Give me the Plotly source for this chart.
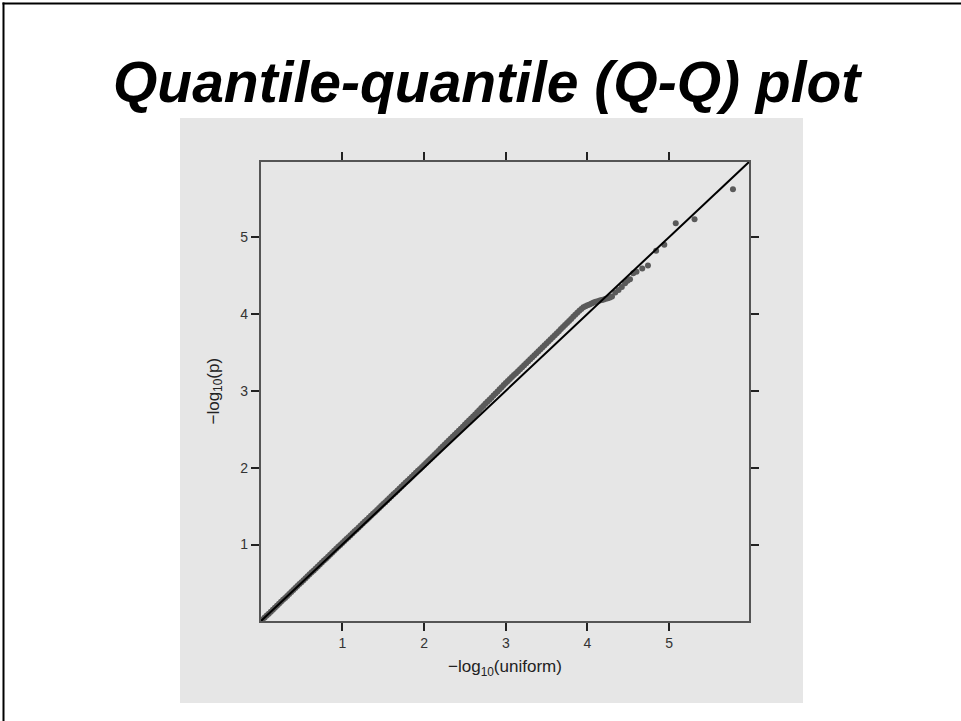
import plotly.graph_objects as go

# Expected -log10(uniform) quantiles
qx = [0.025, 0.050, 0.075, 0.100, 0.125, 0.150, 0.175, 0.200,
      0.225, 0.250, 0.275, 0.300, 0.325, 0.350, 0.375, 0.400,
      0.425, 0.450, 0.475, 0.500, 0.525, 0.550, 0.575, 0.600,
      0.625, 0.650, 0.675, 0.700, 0.725, 0.750, 0.775, 0.800,
      0.825, 0.850, 0.875, 0.900, 0.925, 0.950, 0.975, 1.000,
      1.025, 1.050, 1.075, 1.100, 1.125, 1.150, 1.175, 1.200,
      1.225, 1.250, 1.275, 1.300, 1.325, 1.350, 1.375, 1.400,
      1.425, 1.450, 1.475, 1.500, 1.525, 1.550, 1.575, 1.600,
      1.625, 1.650, 1.675, 1.700, 1.725, 1.750, 1.775, 1.800,
      1.825, 1.850, 1.875, 1.900, 1.925, 1.950, 1.975, 2.000,
      2.025, 2.050, 2.075, 2.100, 2.125, 2.150, 2.175, 2.200,
      2.225, 2.250, 2.275, 2.300, 2.325, 2.350, 2.375, 2.400,
      2.425, 2.450, 2.475, 2.500, 2.525, 2.550, 2.575, 2.600,
      2.625, 2.650, 2.675, 2.700, 2.725, 2.750, 2.775, 2.800,
      2.825, 2.850, 2.875, 2.900, 2.925, 2.950, 2.975, 3.000,
      3.025, 3.050, 3.075, 3.100, 3.125, 3.150, 3.175, 3.200,
      3.225, 3.250, 3.275, 3.300, 3.325, 3.350, 3.375, 3.400,
      3.425, 3.450, 3.475, 3.500, 3.525, 3.550, 3.575, 3.600,
      3.625, 3.650, 3.675, 3.700, 3.725, 3.750, 3.775, 3.800,
      3.825, 3.850, 3.875, 3.900, 3.925, 3.950, 3.975, 4.000,
      4.025, 4.050, 4.075, 4.100, 4.125, 4.150, 4.175, 4.200,
      4.225, 4.250, 4.275, 4.300,
      4.34, 4.38, 4.42, 4.46, 4.49, 4.52, 4.56, 4.60, 4.67, 4.74,
      4.84, 4.94, 5.08, 5.31, 5.78]
# Observed -log10(p)
qy = [0.025, 0.050, 0.076, 0.101, 0.126, 0.152, 0.178, 0.203,
      0.230, 0.255, 0.281, 0.306, 0.332, 0.357, 0.383, 0.408,
      0.434, 0.459, 0.485, 0.510, 0.536, 0.561, 0.587, 0.612,
      0.638, 0.663, 0.689, 0.715, 0.740, 0.766, 0.791, 0.816,
      0.842, 0.868, 0.893, 0.919, 0.944, 0.970, 0.995, 1.020,
      1.045, 1.071, 1.096, 1.121, 1.146, 1.172, 1.197, 1.222,
      1.247, 1.272, 1.298, 1.323, 1.348, 1.373, 1.399, 1.424,
      1.450, 1.475, 1.501, 1.526, 1.551, 1.577, 1.602, 1.627,
      1.653, 1.678, 1.704, 1.729, 1.755, 1.780, 1.806, 1.831,
      1.856, 1.882, 1.907, 1.933, 1.959, 1.984, 2.010, 2.035,
      2.061, 2.087, 2.113, 2.139, 2.165, 2.191, 2.217, 2.245,
      2.271, 2.297, 2.323, 2.350, 2.376, 2.402, 2.428, 2.454,
      2.480, 2.506, 2.533, 2.560, 2.587, 2.614, 2.640, 2.666,
      2.693, 2.720, 2.747, 2.775, 2.802, 2.830, 2.857, 2.882,
      2.909, 2.937, 2.964, 2.992, 3.020, 3.047, 3.074, 3.100,
      3.126, 3.152, 3.178, 3.204, 3.229, 3.255, 3.281, 3.307,
      3.333, 3.359, 3.385, 3.411, 3.437, 3.463, 3.489, 3.514,
      3.540, 3.566, 3.592, 3.618, 3.644, 3.671, 3.697, 3.724,
      3.750, 3.776, 3.803, 3.829, 3.856, 3.882, 3.909, 3.935,
      3.962, 3.988, 4.015, 4.041, 4.065, 4.085, 4.100, 4.112,
      4.124, 4.137, 4.148, 4.158, 4.166, 4.173, 4.180, 4.187,
      4.196, 4.205, 4.215, 4.228,
      4.28, 4.31, 4.35, 4.40, 4.43, 4.45, 4.53, 4.55, 4.59, 4.63,
      4.82, 4.90, 5.18, 5.23, 5.62]

x_ticks = [1, 2, 3, 4, 5]
y_ticks = [1, 2, 3, 4, 5]
axis_max = 5.98
diag = [0, axis_max]

W, H = 961, 721
FONT = "Liberation Sans, Arial, sans-serif"

fig = go.Figure()
fig.add_trace(go.Scatter(x=qx, y=qy, mode="markers",
                         marker=dict(size=6, color="#5a5a5a", line=dict(width=0)),
                         showlegend=False, hoverinfo="skip"))
fig.add_trace(go.Scatter(x=diag, y=diag, mode="lines",
                         line=dict(color="black", width=2),
                         showlegend=False, hoverinfo="skip"))

def px_x(p):
    return p / W

def px_y(p):
    return 1 - p / H

axis_common = dict(showgrid=False, zeroline=False, showline=True,
                   linecolor="#555555", linewidth=1.5, mirror="allticks",
                   ticks="outside", ticklen=8, tickwidth=1.5, tickcolor="#222222",
                   tickfont=dict(family=FONT, size=14, color="#333333"))

fig.update_layout(
    width=W, height=H,
    margin=dict(l=0, r=0, t=0, b=0),
    paper_bgcolor="white",
    plot_bgcolor="#e6e6e6",
    xaxis=dict(domain=[px_x(260.6), px_x(749.3)], range=[0, axis_max],
               tickvals=x_ticks, **axis_common),
    yaxis=dict(domain=[px_y(621.4), px_y(161.7)], range=[0, axis_max],
               tickvals=y_ticks, **axis_common),
    shapes=[
        dict(type="rect", xref="paper", yref="paper", layer="below",
             x0=px_x(180), x1=px_x(803), y0=px_y(703), y1=px_y(118),
             fillcolor="#e6e6e6", line=dict(width=0)),
        dict(type="line", xref="paper", yref="paper",
             x0=px_x(3.5), x1=px_x(3.5), y0=px_y(2.5), y1=0,
             line=dict(color="black", width=2)),
        dict(type="line", xref="paper", yref="paper",
             x0=px_x(2.5), x1=1, y0=px_y(3.5), y1=px_y(3.5),
             line=dict(color="black", width=2)),
    ],
    annotations=[
        dict(text="<b><i>Quantile-quantile (Q-Q) plot</i></b>", xref="paper", yref="paper",
             x=px_x(487), y=px_y(82), xanchor="center", yanchor="middle",
             showarrow=False, font=dict(family=FONT, size=57, color="black")),
        dict(text="\u2212log<sub>10</sub>(uniform)", xref="paper", yref="paper",
             x=px_x(505), y=px_y(668), xanchor="center", yanchor="middle",
             showarrow=False, font=dict(family=FONT, size=17, color="#222222")),
        dict(text="\u2212log<sub>10</sub>(p)", xref="paper", yref="paper",
             x=px_x(214), y=px_y(391.5), xanchor="center", yanchor="middle",
             textangle=-90,
             showarrow=False, font=dict(family=FONT, size=17, color="#222222")),
    ],
)

fig.write_html("out.html")
